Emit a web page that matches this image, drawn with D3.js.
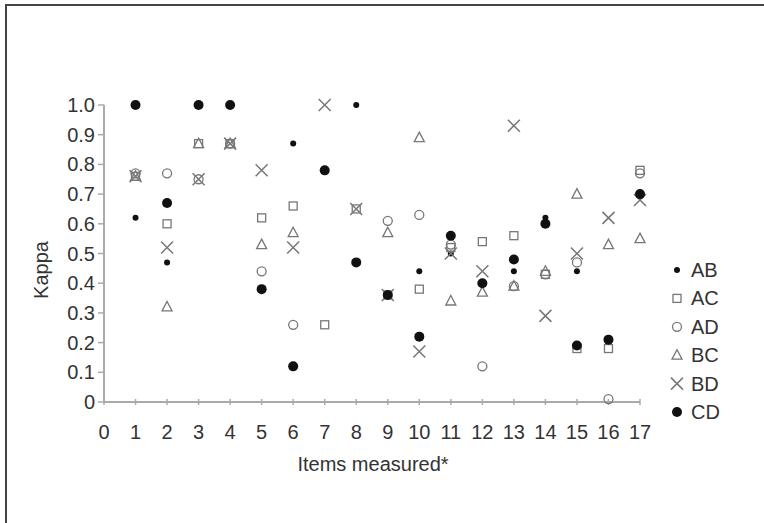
<!DOCTYPE html>
<html>
<head>
<meta charset="utf-8">
<script src="https://cdn.jsdelivr.net/npm/d3@7"></script>
<style>
  html, body { margin: 0; padding: 0; background: #fff; }
  svg text { font-family: "Liberation Sans", "DejaVu Sans", sans-serif; fill: #333; }
</style>
</head>
<body>
<div id="chart"></div>
<script>
// Items measured (x) and kappa per rater pair (null = hidden / not shown)
const items = [1, 2, 3, 4, 5, 6, 7, 8, 9, 10, 11, 12, 13, 14, 15, 16, 17];
const AB = [0.62, 0.47, 1.0, 1.0, null, 0.87, 0.78, 1.0, 0.36, 0.44, 0.50, 0.40, 0.44, 0.62, 0.44, 0.21, 0.70];
const AC = [0.76, 0.60, 0.87, 0.87, 0.62, 0.66, 0.26, 0.65, 0.36, 0.38, 0.52, 0.54, 0.56, 0.43, 0.18, 0.18, 0.78];
const AD = [0.77, 0.77, 0.75, 0.87, 0.44, 0.26, null, null, 0.61, 0.63, 0.53, 0.12, 0.39, 0.43, 0.47, 0.01, 0.77];
const BC = [0.76, 0.32, 0.87, 0.87, 0.53, 0.57, null, null, 0.57, 0.89, 0.34, 0.37, 0.39, 0.44, 0.70, 0.53, 0.55];
const BD = [0.76, 0.52, 0.75, 0.87, 0.78, 0.52, 1.0, 0.65, 0.36, 0.17, 0.50, 0.44, 0.93, 0.29, 0.50, 0.62, 0.68];
const CD = [1.0, 0.67, 1.0, 1.0, 0.38, 0.12, 0.78, 0.47, 0.36, 0.22, 0.56, 0.40, 0.48, 0.60, 0.19, 0.21, 0.70];
const seriesNames = ['AB', 'AC', 'AD', 'BC', 'BD', 'CD'];
const seriesValues = [AB, AC, AD, BC, BD, CD];
const xTicks = d3.range(0, 18);
const yTicks = [0, 0.1, 0.2, 0.3, 0.4, 0.5, 0.6, 0.7, 0.8, 0.9, 1.0];

const W = 764, H = 523;
const FS = 20;
const x = d3.scaleLinear().domain([0, 17]).range([104, 640]);
const y = d3.scaleLinear().domain([0, 1]).range([402, 105]);

const svg = d3.select('#chart').append('svg').attr('width', W).attr('height', H);

// frame (top and left edges only)
svg.append('path')
  .attr('d', `M6,${H} V5 H${W}`)
  .attr('fill', 'none').attr('stroke', '#444').attr('stroke-width', 2);

const axisColor = '#aaa';

// y axis
svg.append('line')
  .attr('x1', x(0)).attr('x2', x(0)).attr('y1', y(1)).attr('y2', y(0))
  .attr('stroke', axisColor).attr('stroke-width', 2);
svg.selectAll('.ytick').data(yTicks).join('line')
  .attr('x1', x(0) - 6).attr('x2', x(0))
  .attr('y1', d => y(d)).attr('y2', d => y(d))
  .attr('stroke', axisColor).attr('stroke-width', 1.5);
svg.selectAll('.ylab').data(yTicks).join('text')
  .attr('x', 95).attr('y', d => y(d) + 7)
  .attr('text-anchor', 'end').attr('font-size', FS)
  .text(d => d === 0 ? '0' : d.toFixed(1));

// x axis
svg.append('line')
  .attr('x1', x(0)).attr('x2', x(17)).attr('y1', y(0)).attr('y2', y(0))
  .attr('stroke', axisColor).attr('stroke-width', 2);
svg.selectAll('.xtick').data(xTicks).join('line')
  .attr('x1', d => x(d)).attr('x2', d => x(d))
  .attr('y1', y(0) - 3).attr('y2', y(0) + 3)
  .attr('stroke', axisColor).attr('stroke-width', 1.5);
svg.selectAll('.xlab').data(xTicks).join('text')
  .attr('x', d => x(d)).attr('y', 439)
  .attr('text-anchor', 'middle').attr('font-size', FS)
  .text(d => d);

// axis titles
svg.append('text')
  .attr('transform', 'translate(48,270) rotate(-90)')
  .attr('text-anchor', 'middle').attr('font-size', FS)
  .text('Kappa');
svg.append('text')
  .attr('x', 373).attr('y', 471)
  .attr('text-anchor', 'middle').attr('font-size', FS)
  .text('Items measured*');

// marker drawers
function drawMarker(g, name) {
  const grey = '#777';
  if (name === 'AB') {
    g.append('circle').attr('r', 3).attr('fill', '#111');
  } else if (name === 'AC') {
    g.append('rect').attr('x', -4).attr('y', -4).attr('width', 8).attr('height', 8)
      .attr('fill', 'none').attr('stroke', grey).attr('stroke-width', 1.3);
  } else if (name === 'AD') {
    g.append('circle').attr('r', 4.5)
      .attr('fill', 'none').attr('stroke', grey).attr('stroke-width', 1.3);
  } else if (name === 'BC') {
    g.append('path').attr('d', 'M0,-5.5 L5,4 L-5,4 Z')
      .attr('fill', 'none').attr('stroke', grey).attr('stroke-width', 1.3);
  } else if (name === 'BD') {
    g.append('path').attr('d', 'M-6,-6 L6,6 M-6,6 L6,-6')
      .attr('fill', 'none').attr('stroke', grey).attr('stroke-width', 1.5);
  } else if (name === 'CD') {
    g.append('circle').attr('r', 5).attr('fill', '#111');
  }
}

// points
seriesNames.forEach((name, si) => {
  const pts = items.map((it, i) => ({ x: it, v: seriesValues[si][i] })).filter(d => d.v != null);
  svg.append('g').selectAll('g').data(pts).join('g')
    .attr('transform', d => `translate(${x(d.x)},${y(d.v)})`)
    .each(function() { drawMarker(d3.select(this), name); });
});

// legend
const lg = svg.append('g');
seriesNames.forEach((name, i) => {
  const yy = 270 + i * 28.4;
  const g = lg.append('g').attr('transform', `translate(677,${yy})`);
  drawMarker(g, name);
  lg.append('text').attr('x', 691).attr('y', yy + 7).attr('font-size', FS).text(name);
});
</script>
</body>
</html>
